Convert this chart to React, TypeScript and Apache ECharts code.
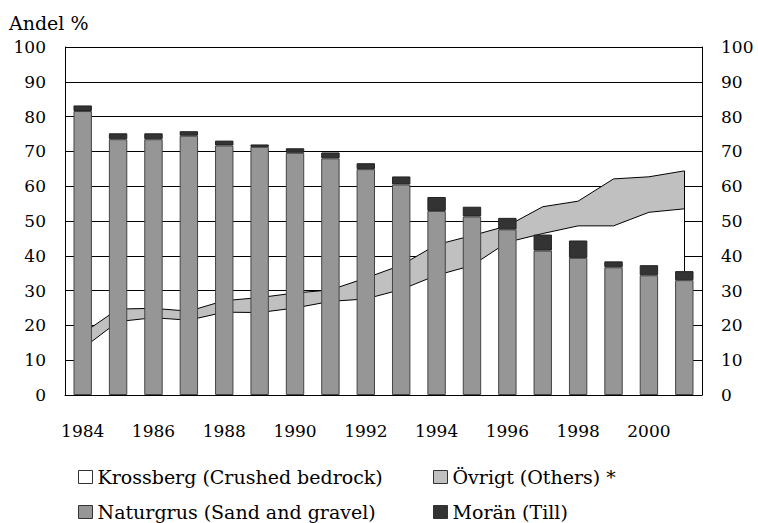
import React, { useEffect, useRef } from "react";
import * as echarts from "echarts";

const years = ["1984","1985","1986","1987","1988","1989","1990","1991","1992","1993","1994","1995","1996","1997","1998","1999","2000","2001"];
const krossberg = [13.4, 21.1, 22.2, 21.5, 23.8, 23.7, 25.0, 26.9, 27.6, 30.3, 34.4, 37.2, 43.9, 46.4, 48.6, 48.6, 52.5, 53.5];
const ovrigt = [4.3, 3.6, 2.7, 2.6, 3.3, 4.3, 4.3, 3.3, 6.0, 7.0, 8.8, 8.6, 4.7, 7.7, 7.1, 13.5, 10.2, 10.9];
const naturgrus = [81.6, 73.5, 73.5, 74.5, 71.7, 71.3, 69.6, 68.0, 64.9, 60.5, 52.9, 51.3, 47.6, 41.5, 39.4, 36.7, 34.4, 33.0];
const moran = [1.6, 1.7, 1.7, 1.3, 1.4, 0.7, 1.3, 1.7, 1.7, 2.3, 4.0, 2.8, 3.3, 4.6, 5.0, 1.7, 2.9, 2.6];

const names = {
  kross: "Krossberg (Crushed bedrock)",
  ovr: "Övrigt (Others) *",
  nat: "Naturgrus (Sand and gravel)",
  mor: "Morän (Till)",
};

const FONT = "'DejaVu Serif', 'Liberation Serif', serif";

export default function App() {
  const ref = useRef<HTMLDivElement>(null);
  useEffect(() => {
    if (!ref.current) return;
    const chart = echarts.init(ref.current, null, { renderer: "svg" });
    const last = years.length - 1;
    const legendBase = {
      orient: "horizontal",
      icon: "rect",
      itemWidth: 14,
      itemHeight: 13,
      itemGap: 0,
      padding: 0,
      selectedMode: false,
      itemStyle: { borderColor: "#333", borderWidth: 1 },
      textStyle: { fontFamily: FONT, fontSize: 19, color: "#000", lineHeight: 20 },
    };
    chart.setOption({
      animation: false,
      backgroundColor: "#fff",
      title: {
        text: "Andel %",
        left: 9,
        top: 13,
        padding: 0,
        textStyle: { fontFamily: FONT, fontSize: 19, fontWeight: "normal", color: "#000" },
      },
      legend: [
        { ...legendBase, left: 78, top: 467, data: [{ name: names.kross, itemStyle: { color: "#fff" } }] },
        { ...legendBase, left: 433, top: 467, data: [{ name: names.ovr, itemStyle: { color: "#c0c0c0" } }] },
        { ...legendBase, left: 78, top: 502, data: [{ name: names.nat, itemStyle: { color: "#969696" } }] },
        { ...legendBase, left: 433, top: 502, data: [{ name: names.mor, itemStyle: { color: "#333333" } }] },
      ],
      grid: { left: 65, right: 56, top: 47, bottom: 128, containLabel: false },
      xAxis: {
        type: "category",
        data: years,
        boundaryGap: true,
        axisLine: { show: true, lineStyle: { color: "#000", width: 1 } },
        axisTick: { show: false },
        axisLabel: { interval: 1, margin: 27, fontFamily: FONT, fontSize: 17, color: "#000" },
        splitLine: { show: false },
      },
      yAxis: [
        {
          type: "value",
          min: 0,
          max: 100,
          interval: 10,
          position: "left",
          axisLine: { show: true, lineStyle: { color: "#000", width: 1 } },
          axisTick: { show: false },
          axisLabel: { margin: 19, fontFamily: FONT, fontSize: 17, color: "#000" },
          splitLine: { show: true, lineStyle: { color: "#000", width: 1 } },
        },
        {
          type: "value",
          min: 0,
          max: 100,
          interval: 10,
          position: "right",
          axisLine: { show: true, lineStyle: { color: "#000", width: 1 } },
          axisTick: { show: false },
          axisLabel: { margin: 19, fontFamily: FONT, fontSize: 17, color: "#000" },
          splitLine: { show: false },
        },
      ],
      series: [
        {
          name: names.kross,
          type: "line",
          stack: "area",
          data: krossberg,
          symbol: "none",
          z: 2,
          itemStyle: { color: "#fff" },
          lineStyle: { color: "#000", width: 1 },
          areaStyle: { color: "#fff", opacity: 1 },
          markLine: {
            silent: true,
            symbol: "none",
            label: { show: false },
            lineStyle: { color: "#000", width: 1, type: "solid" },
            data: [[
              { coord: [years[last], naturgrus[last] + moran[last]] },
              { coord: [years[last], krossberg[last] + ovrigt[last]] },
            ]],
          },
        },
        {
          name: names.ovr,
          type: "line",
          stack: "area",
          data: ovrigt,
          symbol: "none",
          z: 2,
          itemStyle: { color: "#c0c0c0" },
          lineStyle: { color: "#000", width: 1 },
          areaStyle: { color: "#c0c0c0", opacity: 1 },
        },
        {
          name: names.nat,
          type: "bar",
          stack: "bars",
          data: naturgrus,
          barWidth: "52%",
          z: 4,
          itemStyle: { color: "#969696", borderColor: "#444", borderWidth: 1 },
        },
        {
          name: names.mor,
          type: "bar",
          stack: "bars",
          data: moran,
          barWidth: "52%",
          z: 4,
          itemStyle: { color: "#333333", borderColor: "#222", borderWidth: 1 },
        },
      ],
    });
    return () => chart.dispose();
  }, []);
  return <div ref={ref} style={{ width: 758, height: 523, position: "absolute", left: 0, top: 0 }} />;
}
